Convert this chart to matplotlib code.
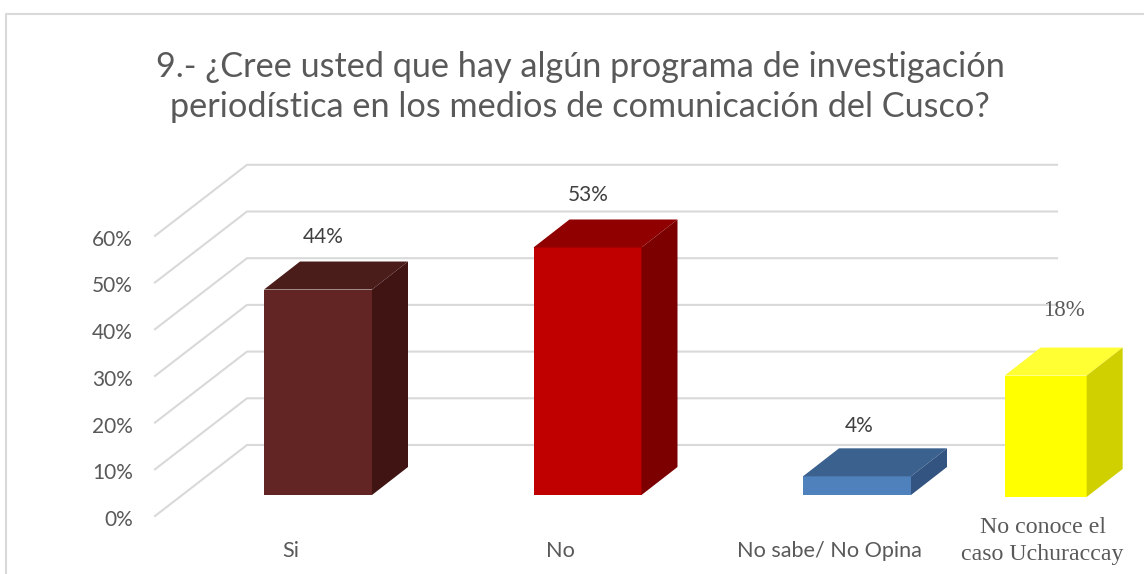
import matplotlib
matplotlib.use('Agg')
import matplotlib.pyplot as plt
from matplotlib.patches import Polygon

categories = ['Si', 'No', 'No sabe/ No Opina', 'No conoce el\ncaso Uchuraccay']
bar_heights = [44, 53, 4, 26]  # the yellow bar is drawn taller than its 18% label
bar_labels = ['44%', '53%', '4%', '18%']
ticks = [0, 10, 20, 30, 40, 50, 60]
title = '9.- ¿Cree usted que hay algún programa de investigación\nperiodística en los medios de comunicación del Cusco?'

front_colors = ['#632523', '#C00000', '#4F81BD', '#FFFF00']
top_colors = ['#4A1C1A', '#900000', '#3B618E', '#FFFF33']
side_colors = ['#3F1413', '#7C0000', '#335480', '#D0D000']

W, H = 1144, 574
PX_X = 269.5   # pixels per category
PX_Y = 4.67    # pixels per percent
X0, Y0 = 318, 495  # pixel position of category 0 / floor of the bars

fig = plt.figure(figsize=(W / 100, H / 100), dpi=100)
ax = fig.add_axes([0, 0, 1, 1])
ax.set_xlim(-X0 / PX_X, (W - X0) / PX_X)
ax.set_ylim(-(H - Y0) / PX_Y, Y0 / PX_Y)
ax.axis('off')

# chart border, only top and sides are visible in the crop
ax.plot([6 / W, 6 / W, 1], [0, 1 - 14 / H, 1 - 14 / H], transform=ax.transAxes,
        color='#D9D9D9', lw=1.5, clip_on=False)

# walls: back grid lines and diagonal floor/side lines
left_front = (155 - X0) / PX_X
left_back = (247 - X0) / PX_X
right_back = (1057 - X0) / PX_X
front_shift = -21 / PX_Y
back_shift = 50 / PX_Y
for t in ticks:
    ax.plot([left_front, left_back, right_back],
            [t + front_shift, t + back_shift, t + back_shift],
            color='#D9D9D9', lw=1.5, zorder=1)
    ax.text((133 - X0) / PX_X, t - 25 / PX_Y, f'{t}%', ha='right', va='center',
            fontsize=15, color='#595959', family='Lato')

# bars with fake 3d depth
bar_x = [0, 1, 2, 2.70]
bar_w = [108, 108, 108, 82]
dx = 36 / PX_X
dy = 28 / PX_Y
bar_base = [0, 0, 0, -2 / PX_Y]
for i in range(len(categories)):
    half = bar_w[i] / PX_X / 2
    l = bar_x[i] - half
    r = bar_x[i] + half
    b = bar_base[i]
    t = b + bar_heights[i]
    ax.add_patch(Polygon([(l, b), (r, b), (r, t), (l, t)], color=front_colors[i], lw=0, zorder=3))
    ax.add_patch(Polygon([(l, t), (r, t), (r + dx, t + dy), (l + dx, t + dy)], color=top_colors[i], lw=0, zorder=3))
    ax.add_patch(Polygon([(r, b), (r + dx, b + dy), (r + dx, t + dy), (r, t)], color=side_colors[i], lw=0, zorder=3))

# value labels
label_x = [5 / PX_X + 0, 1 + 1 / PX_X, 2 + 2 / PX_X, 2.70 + 18 / PX_X]
label_y = [(495 - 237) / PX_Y, (495 - 195) / PX_Y, (495 - 426) / PX_Y, (495 - 310) / PX_Y]
for i in range(3):
    ax.text(label_x[i], label_y[i], bar_labels[i], ha='center', va='center',
            fontsize=15, color='#404040', family='Lato')
ax.text(label_x[3], label_y[3], bar_labels[3], ha='center', va='center',
        fontsize=16.5, color='#595959', family='Liberation Serif')

# category labels
cat_x = [-27 / PX_X, 1 - 27 / PX_X, 2 - 28 / PX_X]
cat_y = (495 - 551) / PX_Y
for i in range(3):
    ax.text(cat_x[i], cat_y, categories[i], ha='center', va='center',
            fontsize=15.6, color='#595959', family='Lato')
ax.text(2.70 - 3 / PX_X, (495 - 541) / PX_Y, categories[3], ha='center', va='center', linespacing=1.35,
        fontsize=17.2, color='#595959', family='Liberation Serif')

ax.text((580 - X0) / PX_X, (495 - 87) / PX_Y, title, ha='center', va='center',
        fontsize=24.7, color='#595959', family='Lato', linespacing=1.34)

fig.savefig('out.png', dpi=100, facecolor='white')
